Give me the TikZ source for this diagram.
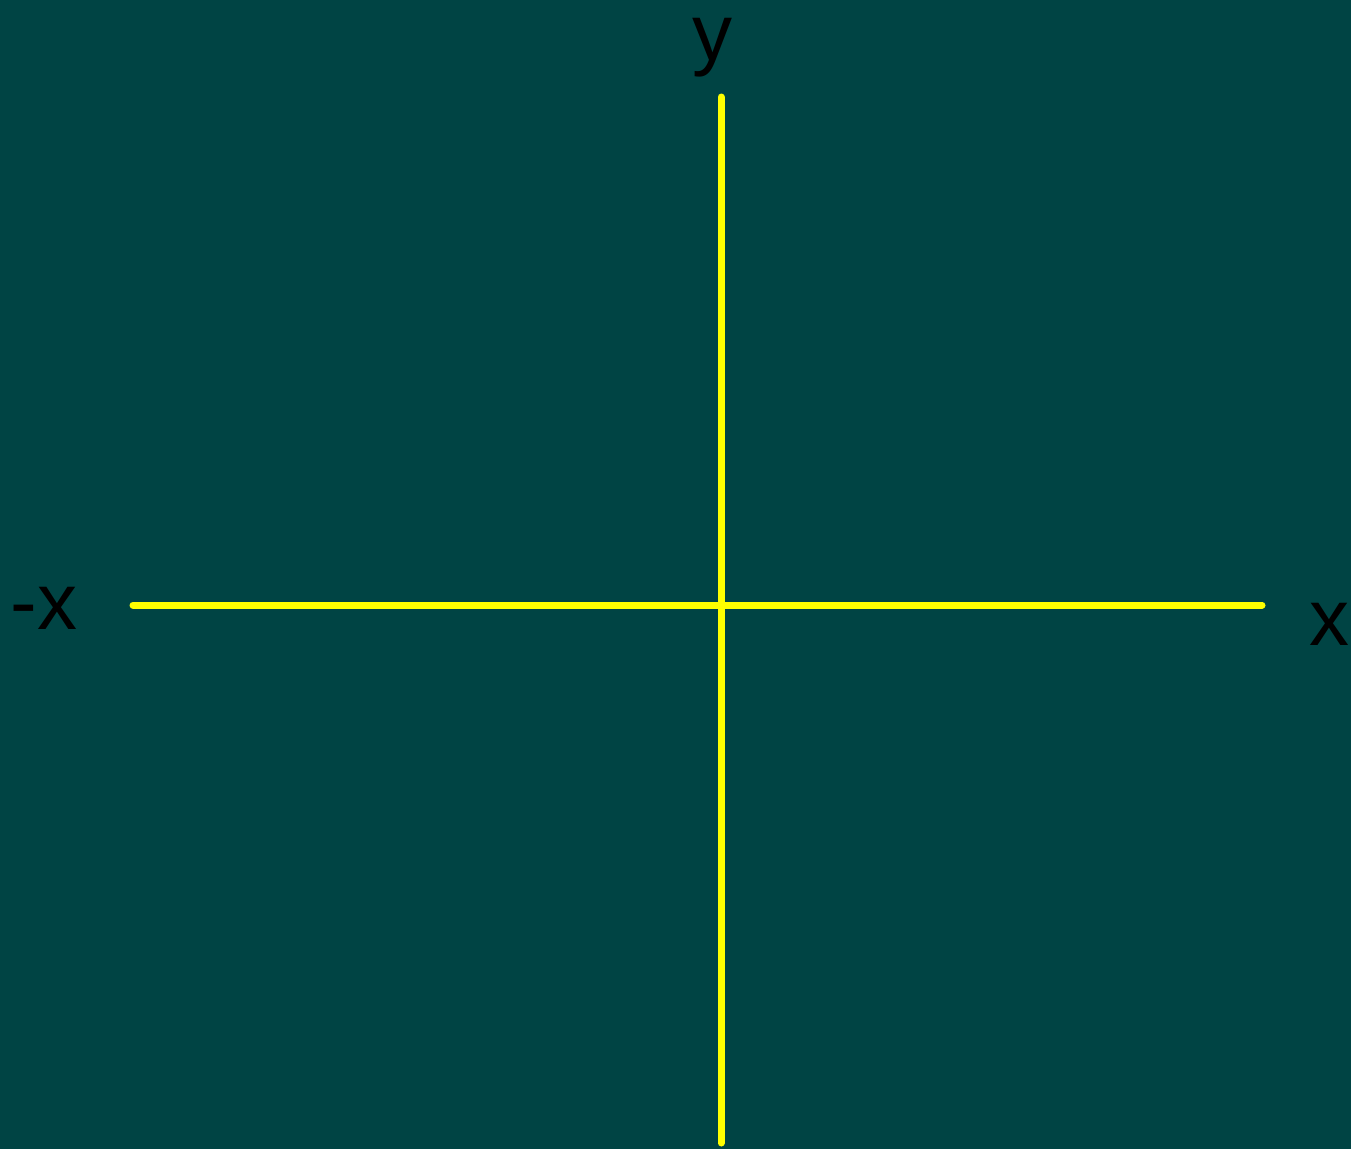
\documentclass[tikz,border=0pt]{standalone}
\usepackage{fontspec}
\setmainfont{Liberation Sans}
\definecolor{bgteal}{RGB}{0,68,68}
\definecolor{axisyellow}{RGB}{255,255,0}
\begin{document}
\begin{tikzpicture}[x=1pt,y=-1pt,
  axis/.style={draw=axisyellow,line width=7pt,line cap=round},
  lbl/.style={text=black,font=\fontsize{80}{86}\selectfont,inner sep=0pt,anchor=base,text height=0.53em,text depth=0.21em}]
\useasboundingbox (0,0) rectangle (1351,1148);
\fill[bgteal] (-3,-3) rectangle (1354,1151);
\coordinate (xl) at (133,605);
\coordinate (xr) at (1262,605);
\coordinate (yt) at (721,97);
\coordinate (yb) at (721,1143);
\draw[axis] (xl) -- (xr);
\draw[axis] (yt) -- (yb);
\node[lbl] (ylab) at (712,60) {y};
\node[lbl] (xlab) at (1329,645) {x};
\node[lbl] (nxlab) at (44,629) {-x};
\end{tikzpicture}
\end{document}
